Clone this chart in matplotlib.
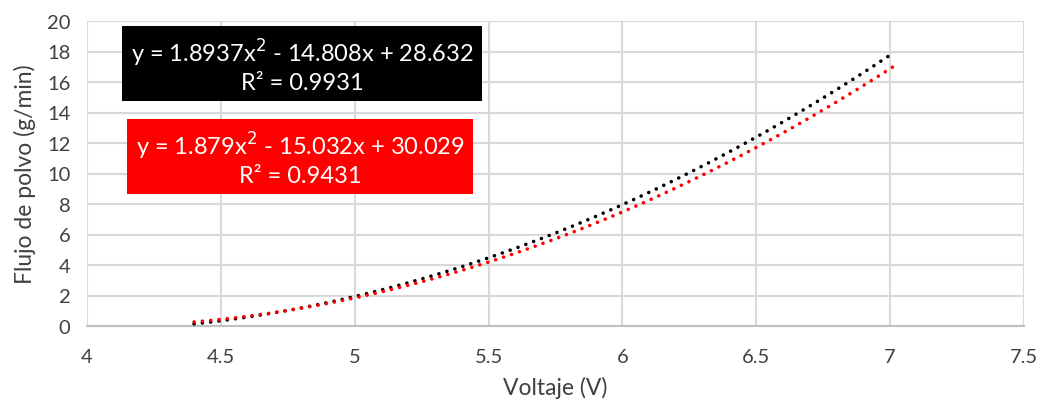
import numpy as np
import matplotlib
matplotlib.use("Agg")
import matplotlib.pyplot as plt

plt.rcParams['font.family'] = ['Lato', 'DejaVu Sans']

# Trendline coefficients (quadratic: a, b, c) and x ranges, as shown in the chart
black_coefs = [1.8937, -14.808, 28.632]
black_r2 = 0.9931
black_xrange = [4.4, 7.0]
red_coefs = [1.879, -15.032, 30.029]
red_r2 = 0.9431
red_xrange = [4.4, 7.03]

x_ticks = [4, 4.5, 5, 5.5, 6, 6.5, 7, 7.5]
y_ticks = [0, 2, 4, 6, 8, 10, 12, 14, 16, 18, 20]
x_label = "Voltaje (V)"
y_label = "Flujo de polvo (g/min)"

fig = plt.figure(figsize=(10.43, 4.06), dpi=100)
ax = fig.add_axes([87/1043, 1-327/406, (1024-87)/1043, (327-22)/406])

def eq_text(c, r2):
    def fmt(v):
        return f"{abs(v):g}"
    s1 = "-" if c[1] < 0 else "+"
    s2 = "-" if c[2] < 0 else "+"
    return (f"y = {fmt(c[0])}x$^2$ {s1} {fmt(c[1])}x {s2} {fmt(c[2])}\n"
            f"R² = {r2:g}")

for coefs, xr, col in [(black_coefs, black_xrange, 'black'), (red_coefs, red_xrange, 'red')]:
    xs = np.linspace(xr[0], xr[1], 300)
    ax.plot(xs, np.polyval(coefs, xs), color=col, lw=2.6,
            linestyle=(0, (0.01, 2.3)), dash_capstyle='round', zorder=3)

ax.set_xlim(4, 7.5)
ax.set_ylim(0, 20)
ax.set_xticks(x_ticks)
ax.set_xticklabels([f"{t:g}" for t in x_ticks])
ax.set_yticks(y_ticks)
ax.grid(True, color='#d9d9d9', lw=1.5)
ax.set_axisbelow(True)
for s in ['top', 'right', 'left']:
    ax.spines[s].set_visible(False)
ax.spines['bottom'].set_color('#bfbfbf')
ax.spines['bottom'].set_linewidth(1.5)
ax.tick_params(length=0, labelsize=14.5, colors='#404040', pad=12)
ax.tick_params(axis='x', pad=16)
ax.set_xlabel(x_label, fontsize=16.5, color='#404040', labelpad=8)
ax.set_ylabel(y_label, fontsize=16.5, color='#404040', labelpad=8)

fig.text(302/1043, 1-66/406, eq_text(black_coefs, black_r2), color='white',
         fontsize=17, ha='center', va='center', linespacing=1.25,
         bbox=dict(boxstyle='square,pad=0.35', fc='black', ec='none'))
fig.text(300/1043, 1-159/406, eq_text(red_coefs, red_r2), color='white',
         fontsize=17, ha='center', va='center', linespacing=1.25,
         bbox=dict(boxstyle='square,pad=0.35', fc='red', ec='none'))

fig.savefig("out.png", dpi=100)
